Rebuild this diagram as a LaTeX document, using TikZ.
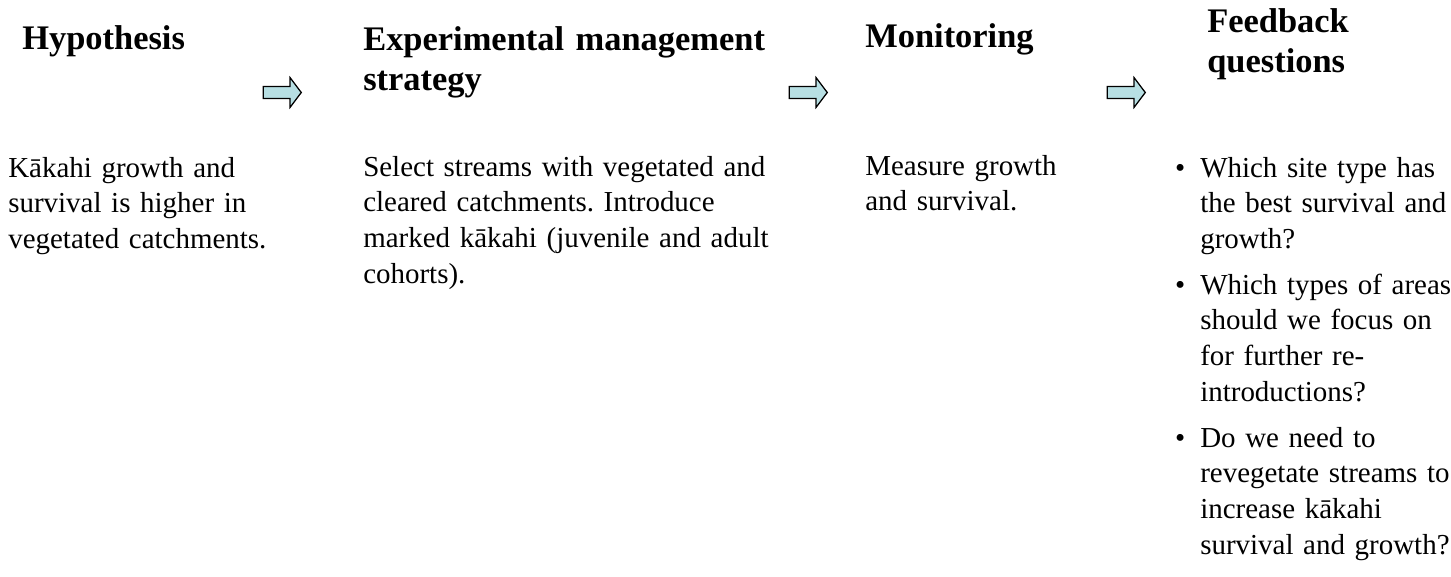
\documentclass[tikz,border=0pt]{standalone}
\usepackage{fontspec}
\setmainfont{Liberation Serif}
\usepackage{xcolor}
\usepackage{tikz}
\usetikzlibrary{positioning,shapes.arrows}
\frenchspacing
\definecolor{pilblue}{RGB}{183,223,227}
\tikzset{
    heading/.style={
        anchor=base west,
        inner sep=0pt,
        text width=14cm,
        align=left,
        font={\fontsize{24.5pt}{28.5pt}\selectfont\bfseries}
    },
    bodytext/.style={
        anchor=base west,
        inner sep=0pt,
        text width=14cm,
        align=left,
        font={\fontsize{20.6pt}{25.6pt}\selectfont}
    },
    bulletitem/.style={bodytext, text width=9cm},
    steparrow/.style={
        single arrow,
        draw=black, line width=0.9pt,
        fill=pilblue,
        minimum height=0.95cm,
        minimum width=0.71cm,
        single arrow head extend=0.22cm,
        single arrow tip angle=106,
        inner xsep=0pt, inner ysep=0.135cm
    },
}

\begin{document}
\begin{tikzpicture}
\useasboundingbox (0,0) rectangle (36.275,-14.4);
% headings
\node(hyp) at (0.55, -1.225)[heading]{Hypothesis};
\node(strat) at (9.075, -1.25)[heading]{Experimental management\\strategy};
\node(mon) at (21.625, -1.175)[heading]{Monitoring};
\node(feed) at (30.175, -0.8)[heading]{Feedback\\questions};
% arrows between the steps
\node(pilA) at (7.0, -2.3125)[steparrow]{};
\node(pilB) at (20.15, -2.3125)[steparrow]{};
\node(pilC) at (28.1, -2.3125)[steparrow]{};
% texts
\node(hypbody) at (0.2, -4.425)[bodytext]{Kākahi growth and\\survival is higher in\\vegetated catchments.};
\node(stratbody) at (9.075, -4.4)[bodytext]{Select streams with vegetated and\\cleared catchments. Introduce\\marked kākahi (juvenile and adult\\cohorts).};
\node(monbody) at (21.625, -4.375)[bodytext]{Measure growth\\and survival.};
\node(feedA) at (30.0, -4.425)[bulletitem]{\llap{\textbullet\hspace{0.375cm}}Which site type has\\the best survival and\\growth?};
\node(feedB) at (30.0, -7.35)[bulletitem]{\llap{\textbullet\hspace{0.375cm}}Which types of areas\\should we focus on\\for further re-\\introductions?};
\node(feedC) at (30.0, -11.175)[bulletitem]{\llap{\textbullet\hspace{0.375cm}}Do we need to\\revegetate streams to\\increase kākahi\\survival and growth?};
\end{tikzpicture}
\end{document}
